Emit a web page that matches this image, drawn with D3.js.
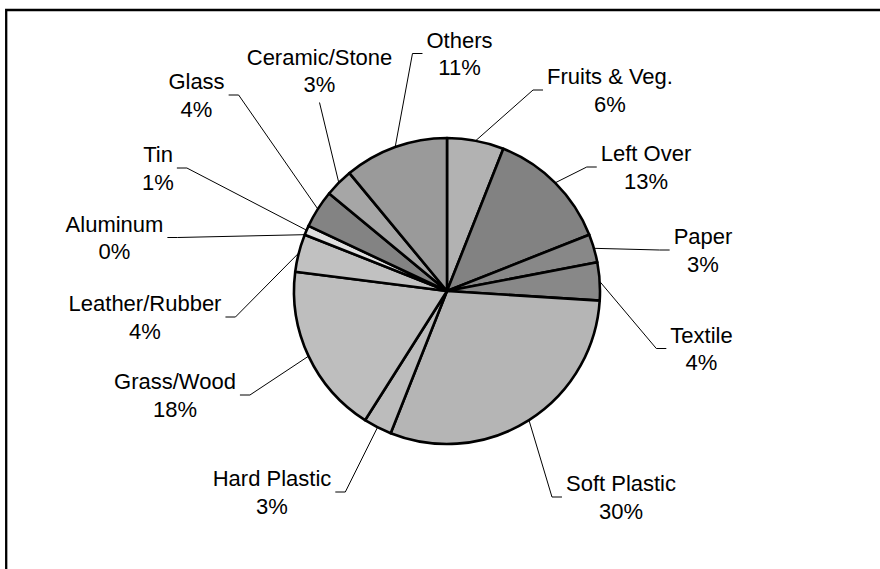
<!DOCTYPE html>
<html>
<head>
<meta charset="utf-8">
<script src="https://cdn.jsdelivr.net/npm/d3@7"></script>
<style>
  html, body { margin: 0; padding: 0; background: #fff; }
  svg { display: block; }
  text { font-family: "Liberation Sans", Arial, sans-serif; font-size: 22px; fill: #000; }
</style>
</head>
<body>
<svg id="chart" width="880" height="569"></svg>
<script>
// Waste composition, share of total (%), clockwise from 12 o'clock
const categories = ["Fruits & Veg.", "Left Over", "Paper", "Textile", "Soft Plastic", "Hard Plastic",
                    "Grass/Wood", "Leather/Rubber", "Aluminum", "Tin", "Glass", "Ceramic/Stone", "Others"];
const shares = [6, 13, 3, 4, 30, 3, 18, 4, 0, 1, 4, 3, 11];
const fills = ["#b2b2b2", "#828282", "#888888", "#888888", "#b5b5b5", "#bcbcbc",
               "#bebebe", "#c1c1c1", "#e0e0e0", "#e0e0e0", "#838383", "#a6a6a6", "#9a9a9a"];

// Label block centres, relative to the pie centre
const labelOffsets = [[163, -201], [199, -124], [256, -41], [254.5, 57.5], [174, 206], [-175, 201],
                      [-272, 104], [-302, 26], [-332.5, -53.5], [-289, -123], [-250.5, -196],
                      [-127.5, -220.5], [12.5, -237.5]];

const svg = d3.select("#chart");
const cx = 447, cy = 291, R = 153;
const lineGap = 27.5;

// Frame (top and left edges of the chart area)
svg.append("path")
  .attr("d", "M6.2,569 V10 H880")
  .attr("fill", "none")
  .attr("stroke", "#000")
  .attr("stroke-width", 2.3);

const pie = d3.pie().sort(null).value(d => d.value);
const data = categories.map((c, i) => ({ name: c, value: shares[i], fill: fills[i], off: labelOffsets[i] }));
const arcs = pie(data);
const total = d3.sum(shares);
const pct = d3.format(".0%");

const g = svg.append("g").attr("transform", `translate(${cx},${cy})`);
const arc = d3.arc().innerRadius(0).outerRadius(R);
const edge = d3.arc().innerRadius(R).outerRadius(R);

g.selectAll("path.slice")
  .data(arcs.filter(a => a.value > 0))
  .join("path")
  .attr("class", "slice")
  .attr("d", arc)
  .attr("fill", d => d.data.fill)
  .attr("stroke", "#000")
  .attr("stroke-width", 2.6)
  .attr("stroke-linejoin", "round");

// Labels: name on the first line, share on the second
const labels = g.selectAll("g.label")
  .data(arcs)
  .join("g")
  .attr("class", "label");

labels.each(function (d) {
  const sel = d3.select(this);
  const [lx, ly] = d.data.off;
  const t1 = sel.append("text")
    .attr("x", lx).attr("y", ly - lineGap / 2 + 8)
    .attr("text-anchor", "middle")
    .text(d.data.name);
  sel.append("text")
    .attr("x", lx).attr("y", ly + lineGap / 2 + 8)
    .attr("text-anchor", "middle")
    .text(pct(d.value / total));
  const w = t1.node().getComputedTextLength();
  const [ex, ey] = edge.centroid(d);
  let pts;
  if (ex > lx - w / 2 && ex < lx + w / 2) {
    // leader from below the label
    pts = [[lx, ly + 32], [ex, ey]];
  } else if (lx > ex) {
    const x0 = lx - w / 2 - 4;
    pts = [[x0, ly], [x0 - 10, ly], [ex, ey]];
  } else {
    const x0 = lx + w / 2 + 4;
    pts = [[x0, ly], [x0 + 10, ly], [ex, ey]];
  }
  sel.insert("path", "text")
    .attr("d", d3.line()(pts))
    .attr("fill", "none")
    .attr("stroke", "#000")
    .attr("stroke-width", 1);
});
</script>
</body>
</html>
